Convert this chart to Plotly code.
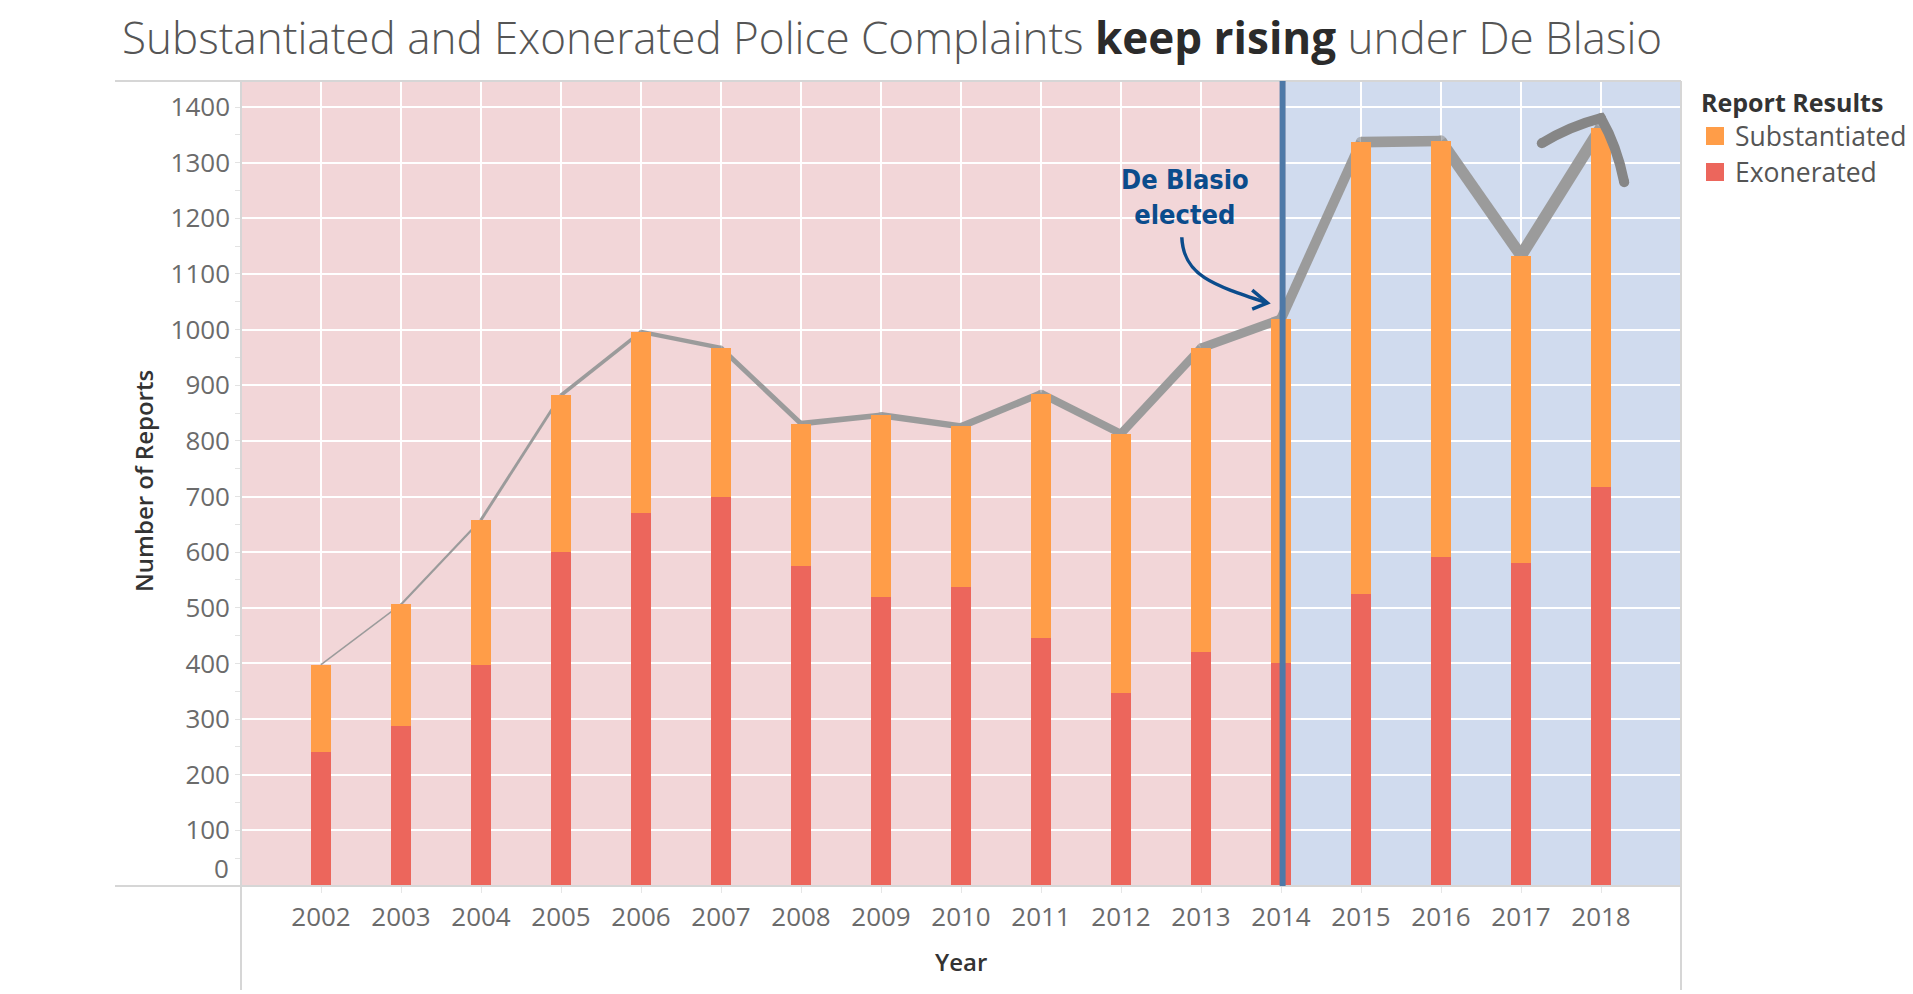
import plotly.graph_objects as go

# ---------------- data ----------------
years = list(range(2002, 2019))
year_labels = [str(y) for y in years]
exonerated = [240, 287, 398, 601, 671, 700, 576, 519, 537, 446, 346, 420, 400, 524, 591, 580, 718]
substantiated = [158, 219, 260, 281, 325, 267, 255, 327, 289, 439, 467, 547, 619, 813, 748, 553, 645]
totals = [e + s for e, s in zip(exonerated, substantiated)]
y_ticks = list(range(100, 1500, 100))
election_year = 2014
legend_title = "Report Results"
series_names = ["Substantiated", "Exonerated"]

# ---------------- style ----------------
C_SUB = "#FF9D48"
C_EXO = "#EC665C"
C_PINK = "#F2D6D8"
C_BLUE = "#D0DBEE"
C_LINE = "#9B9B9B"
C_ARROW = "#868686"
C_VLINE = "#4E79A7"
C_NOTE = "#0B4C8C"
C_BORDER = "#D6D6D6"
TICK_C = "#6B6B6B"
FONT = "Open Sans"

OFF = 8                      # page body margin
W, H = 1913 - OFF, 994 - OFF
L, R, T, B = 241, 1681, 81, 886   # plot area in screen pixels
PW, PH = R - L, B - T

XR = [2001, 2019]
YR = [0, 805 / 0.5564]


def px_x(p):
    return (p - L) / PW


def px_y(p):
    return (B - p) / PH


fig = go.Figure()

# gray total line (drawn under the bars), width growing with time
n = len(years)
seg_w = [1.5 + 0.7 * i for i in range(n - 1)]
for i in range(n - 1):
    fig.add_trace(go.Scatter(
        x=years[i:i + 2], y=totals[i:i + 2], mode="lines",
        line=dict(color=C_LINE, width=seg_w[i]),
        hoverinfo="skip", showlegend=False, xaxis="x", yaxis="y"))
pt_sizes = [seg_w[0]] + [max(seg_w[i - 1], seg_w[min(i, n - 2)]) for i in range(1, n)]
fig.add_trace(go.Scatter(
    x=years, y=totals, mode="markers",
    marker=dict(color=C_LINE, size=pt_sizes, line=dict(width=0)),
    hoverinfo="skip", showlegend=False, xaxis="x", yaxis="y"))

# stacked bars on overlay axes so they sit above the line
fig.add_trace(go.Bar(x=years, y=exonerated, name=series_names[1], marker=dict(color=C_EXO, line=dict(width=0)),
                     width=0.26, xaxis="x2", yaxis="y2", showlegend=False))
fig.add_trace(go.Bar(x=years, y=substantiated, name=series_names[0], marker=dict(color=C_SUB, line=dict(width=0)),
                     width=0.26, xaxis="x2", yaxis="y2", showlegend=False))

shapes = []
# backgrounds
shapes.append(dict(type="rect", xref="x", yref="paper", x0=XR[0], x1=election_year + 0.06, y0=0, y1=1,
                   fillcolor=C_PINK, line=dict(width=0), layer="below"))
shapes.append(dict(type="rect", xref="x", yref="paper", x0=election_year + 0.06, x1=XR[1], y0=0, y1=1,
                   fillcolor=C_BLUE, line=dict(width=0), layer="below"))
# frame lines
bx = px_x(115)
bottom = px_y(990)
shapes += [
    dict(type="line", xref="paper", yref="paper", x0=bx, x1=1, y0=1, y1=1, line=dict(color=C_BORDER, width=2), layer="above"),
    dict(type="line", xref="paper", yref="paper", x0=bx, x1=1, y0=0, y1=0, line=dict(color=C_BORDER, width=2), layer="above"),
    dict(type="line", xref="paper", yref="paper", x0=0, x1=0, y0=bottom, y1=1, line=dict(color=C_BORDER, width=2), layer="above"),
    dict(type="line", xref="paper", yref="paper", x0=1, x1=1, y0=bottom, y1=1, line=dict(color=C_BORDER, width=2), layer="above"),
]
# election line
shapes.append(dict(type="line", xref="x", yref="paper", x0=election_year + 0.02, x1=election_year + 0.02, y0=0, y1=1,
                   line=dict(color=C_VLINE, width=6), layer="above"))
# hand-drawn arrow head at the end of the line
shapes.append(dict(type="path", xref="x", yref="y",
                   path="M 2017.26,1335 Q 2017.62,1366 2018.0,1380 Q 2018.2,1330 2018.29,1265",
                   line=dict(color=C_ARROW, width=10), layer="above"))
for (ax_, ay_) in [(2017.26, 1335), (2018.0, 1380), (2018.29, 1265)]:
    shapes.append(dict(type="circle", xref="x", yref="y", xsizemode="pixel", ysizemode="pixel",
                       xanchor=ax_, yanchor=ay_, x0=-5, x1=5, y0=-5, y1=5,
                       fillcolor=C_ARROW, line=dict(width=0), layer="above"))
# hand-drawn note arrow
shapes.append(dict(type="path", xref="x", yref="y",
                   path="M 2012.76,1166 C 2012.78,1097 2013.15,1080 2013.83,1048",
                   line=dict(color=C_NOTE, width=3.5), layer="above"))
shapes.append(dict(type="path", xref="x", yref="y",
                   path="M 2013.64,1071 L 2013.83,1048 L 2013.64,1037",
                   line=dict(color=C_NOTE, width=3.5), layer="above"))
# stray dot at far left
shapes.append(dict(type="circle", xref="paper", yref="paper", xsizemode="pixel", ysizemode="pixel",
                   xanchor=px_x(4), yanchor=px_y(302), x0=-2.6, x1=2.6, y0=-2.6, y1=2.6,
                   fillcolor="#111111", line=dict(width=0)))
# legend swatches
leg_x0 = 1706
for k, (nm, col) in enumerate(zip(series_names, [C_SUB, C_EXO])):
    yc = 136 + 36 * k
    shapes.append(dict(type="rect", xref="paper", yref="paper",
                       x0=px_x(leg_x0), x1=px_x(leg_x0 + 18), y0=px_y(yc + 9), y1=px_y(yc - 9),
                       fillcolor=col, line=dict(width=0)))

annotations = []
annotations.append(dict(xref="paper", yref="paper", x=px_x(1699), y=px_y(102), xanchor="left", yanchor="middle",
                        text="<b>" + legend_title + "</b>", showarrow=False,
                        font=dict(family=FONT, size=25, color="#333333")))
for k, nm in enumerate(series_names):
    yc = 136 + 36 * k
    annotations.append(dict(xref="paper", yref="paper", x=px_x(1733), y=px_y(yc), xanchor="left", yanchor="middle",
                            text=nm, showarrow=False, font=dict(family=FONT, size=26.5, color="#555555")))
# axis titles
annotations.append(dict(xref="paper", yref="paper", x=px_x(143), y=px_y(481), xanchor="center", yanchor="middle",
                        text="Number of Reports", textangle=-90, showarrow=False,
                        font=dict(family=FONT, size=24, color="#333333", weight=600)))
annotations.append(dict(xref="paper", yref="paper", x=px_x(961), y=px_y(961), xanchor="center", yanchor="middle",
                        text="Year", showarrow=False,
                        font=dict(family=FONT, size=24, color="#333333", weight=600)))
# zero label (tableau keeps it inside the axis)
annotations.append(dict(xref="paper", yref="paper", x=px_x(231), y=px_y(868), xanchor="right", yanchor="middle",
                        text="0", showarrow=False, font=dict(family=FONT, size=26, color=TICK_C)))
# note
annotations.append(dict(xref="x", yref="y", x=2012.8, y=(B - 197) / 0.5564, xanchor="center", yanchor="middle",
                        text="De Blasio<br>elected", showarrow=False,
                        font=dict(family="DejaVu Sans Condensed, Liberation Sans Narrow, sans-serif", size=27,
                                  color=C_NOTE, weight="bold")))

fig.update_layout(
    width=W, height=H,
    margin=dict(l=L - OFF, r=W - (R - OFF), t=T - OFF, b=H - (B - OFF), pad=0),
    paper_bgcolor="white", plot_bgcolor="rgba(0,0,0,0)",
    barmode="stack",
    title=dict(
        text="Substantiated and Exonerated Police Complaints <b><span style='color:#2b2b2b'>keep rising</span></b> under De Blasio",
        x=(122 - OFF) / W, xanchor="left", xref="container", y=1 - (39 - OFF) / H, yanchor="middle", yref="container",
        font=dict(family=FONT, size=44, color="#555555", weight=300)),
    xaxis=dict(range=XR, tickvals=years, ticktext=year_labels, showgrid=True, gridcolor="white", gridwidth=1.5,
               zeroline=False, showline=False, ticks="outside", ticklen=6, tickcolor="#E6E6E6",
               ticklabelstandoff=2, tickfont=dict(family=FONT, size=26, color=TICK_C), fixedrange=True),
    yaxis=dict(range=YR, tickvals=y_ticks, showgrid=True, gridcolor="white", gridwidth=1.5, zeroline=False,
               showline=False, ticks="", ticklabelstandoff=10,
               minor=dict(ticks="outside", ticklen=5, dtick=50, tickcolor="#E3E3E3", showgrid=False),
               tickfont=dict(family=FONT, size=26, color=TICK_C), fixedrange=True),
    xaxis2=dict(range=XR, overlaying="x", visible=False, fixedrange=True),
    yaxis2=dict(range=YR, overlaying="y", visible=False, fixedrange=True),
    shapes=shapes,
    annotations=annotations,
    showlegend=False,
)

fig.write_html("out.html")
